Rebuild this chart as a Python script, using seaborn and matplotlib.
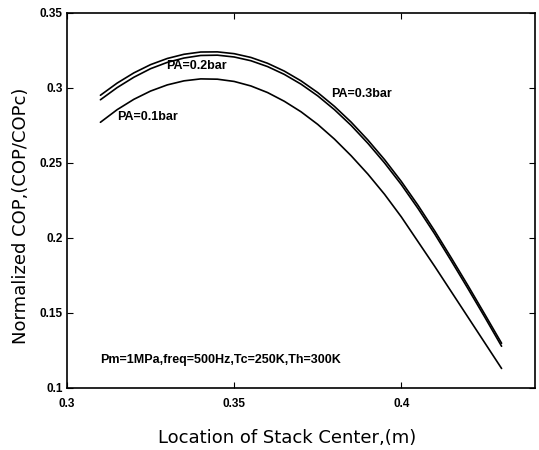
import matplotlib
matplotlib.use("Agg")
import matplotlib.pyplot as plt
import seaborn as sns
import pandas as pd
import numpy as np

# ---- data ----
x_loc = [0.310, 0.315, 0.320, 0.325, 0.330, 0.335, 0.340, 0.345, 0.350, 0.355,
         0.360, 0.365, 0.370, 0.375, 0.380, 0.385, 0.390, 0.395, 0.400, 0.405,
         0.410, 0.415, 0.420, 0.425, 0.430]
cop_pa01 = [0.2770, 0.2854, 0.2923, 0.2978, 0.3019, 0.3046, 0.3059, 0.3057, 0.3042, 0.3012,
            0.2968, 0.2910, 0.2840, 0.2756, 0.2658, 0.2547, 0.2425, 0.2290, 0.2140, 0.1975,
            0.1810, 0.1640, 0.1470, 0.1300, 0.1130]
cop_pa02 = [0.2920, 0.3001, 0.3070, 0.3127, 0.3169, 0.3198, 0.3215, 0.3217, 0.3205, 0.3180,
            0.3141, 0.3089, 0.3024, 0.2946, 0.2854, 0.2749, 0.2630, 0.2499, 0.2355, 0.2196,
            0.2026, 0.1845, 0.1660, 0.1471, 0.1278]
cop_pa03 = [0.2950, 0.3031, 0.3099, 0.3154, 0.3195, 0.3223, 0.3238, 0.3239, 0.3227, 0.3202,
            0.3163, 0.3111, 0.3046, 0.2968, 0.2876, 0.2771, 0.2652, 0.2521, 0.2376, 0.2217,
            0.2046, 0.1865, 0.1680, 0.1490, 0.1298]
series_names = ["PA=0.1bar", "PA=0.2bar", "PA=0.3bar"]
x_ticks = [0.3, 0.35, 0.4]
x_tick_labels = ["0.3", "0.35", "0.4"]
y_ticks = [0.1, 0.15, 0.2, 0.25, 0.3, 0.35]
y_tick_labels = ["0.1", "0.15", "0.2", "0.25", "0.3", "0.35"]
condition_text = "Pm=1MPa,freq=500Hz,Tc=250K,Th=300K"

df = pd.concat([
    pd.DataFrame({"x": x_loc, "y": vals, "series": name})
    for name, vals in zip(series_names, [cop_pa01, cop_pa02, cop_pa03])
], ignore_index=True)

sns.set_style("ticks")
plt.rcParams["font.family"] = ["DejaVu Sans"]
for k in ["text.color", "axes.labelcolor", "xtick.color", "ytick.color",
          "axes.edgecolor"]:
    plt.rcParams[k] = "black"

fig = plt.figure(figsize=(5.39, 4.5), dpi=100)
ax = fig.add_axes([0.1243, 0.1378, 0.8683, 0.834])

sns.lineplot(data=df, x="x", y="y", hue="series",
             palette=["black", "black", "black"], legend=False,
             linewidth=1.2, ax=ax)

ax.set_xlim(0.3, 0.44)
ax.set_ylim(0.1, 0.35)
ax.set_xticks(x_ticks)
ax.set_xticklabels(x_tick_labels)
ax.set_yticks(y_ticks)
ax.set_yticklabels(y_tick_labels)
ax.tick_params(direction="in", top=True, right=True, length=4, width=0.8,
               labelsize=8.5)
ax.tick_params(axis="x", pad=7)
ax.tick_params(axis="y", pad=3)
for lab in ax.get_yticklabels() + ax.get_xticklabels():
    lab.set_fontweight("bold")
    lab.set_family(["Liberation Sans", "DejaVu Sans"])
for s in ax.spines.values():
    s.set_linewidth(1.2)
    s.set_color("black")

ax.set_xlabel("Location of Stack Center,(m)", fontsize=13)
ax.set_ylabel("Normalized COP,(COP/COPc)", fontsize=13)
ax.xaxis.set_label_coords(0.470, -0.133)
ax.xaxis.label.set_va("center")
ax.yaxis.set_label_coords(-0.099, 0.458)
ax.yaxis.label.set_va("center")

ann_font = dict(family=["Liberation Sans", "DejaVu Sans"], fontweight="bold",
                fontsize=9, va="center", ha="left")
ax.text(0.3296, 0.3142, series_names[1], **ann_font)
ax.text(0.3150, 0.2805, series_names[0], **ann_font)
ax.text(0.3790, 0.2959, series_names[2], **ann_font)
ax.text(0.3099, 0.1187, condition_text, **ann_font)

fig.savefig("out.png", dpi=100)
